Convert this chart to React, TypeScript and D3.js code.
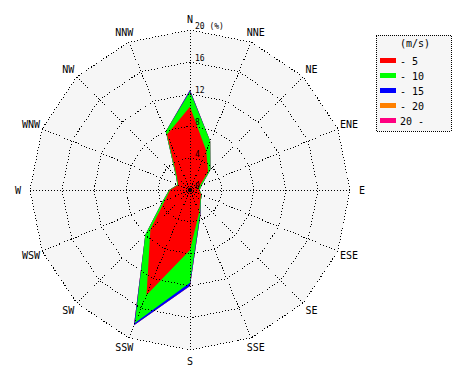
import React from "react";
import * as d3 from "d3";

const directions = ["N","NNE","NE","ENE","E","ESE","SE","SSE","S","SSW","SW","WSW","W","WNW","NW","NNW"];
// frequency (%) per speed class
const speed0to5 =   [10.4, 5.3, 3.2, 1.3, 1.1, 1.5, 1.8, 3.0, 7.5, 14.2, 7.0, 3.4, 2.5, 1.6, 2.3, 7.5];
const speed5to10 =  [1.9, 1.3, 0.4, 0.3, 0.1, 0.1, 0.1, 0.3, 4.1, 3.8, 0.9, 0.3, 0.1, 0.1, 0.2, 0.4];
const speed10to15 = [0.2, 0.0, 0.0, 0.0, 0.0, 0.0, 0.0, 0.1, 0.4, 0.3, 0.0, 0.0, 0.0, 0.0, 0.0, 0.0];
const speed15to20 = [0, 0, 0, 0, 0, 0, 0, 0, 0, 0, 0, 0, 0, 0, 0, 0];
const speedOver20 = [0, 0, 0, 0, 0, 0, 0, 0, 0, 0, 0, 0, 0, 0, 0, 0];
const classLabels = ["- 5", "- 10", "- 15", "- 20", "20 -"];
const classColors = ["#ff0000", "#00ff00", "#0000ff", "#ff8000", "#ff0080"];
const ringTicks = [0, 4, 8, 12, 16, 20];

export default function App() {
  const cx = 190, cy = 190;
  const r = d3.scaleLinear().domain([0, 20]).range([0, 160]);
  const angle = d3.scaleLinear().domain([0, directions.length]).range([0, 2 * Math.PI]);
  const pt = (i: number, v: number): [number, number] => {
    const a = angle(i);
    return [cx + r(v) * Math.sin(a), cy - r(v) * Math.cos(a)];
  };
  const classes = [speed0to5, speed5to10, speed10to15, speed15to20, speedOver20];
  const cumulative = classes.map((_, k) =>
    directions.map((_, i) => d3.sum(classes.slice(0, k + 1), (c) => c[i]))
  );
  const line = d3.line<[number, number]>().curve(d3.curveLinearClosed);
  const ringPath = (v: number) => line(directions.map((_, i) => pt(i, v))) || "";
  const dataPath = (vals: number[]) => line(vals.map((v, i) => pt(i, v))) || "";
  const font = "'DejaVu Sans Mono', monospace";
  const dot = { stroke: "#000", strokeWidth: 1, strokeDasharray: "1,2", fill: "none", shapeRendering: "crispEdges" } as const;

  return (
    <svg width={470} height={380} style={{ position: "absolute", left: 0, top: 0, background: "#fff" }}>
      <path d={ringPath(20)} fill="#f6f6f6" />
      {cumulative.map((vals, k) => k).reverse().map((k) => (
        <path key={"d" + k} d={dataPath(cumulative[k])} fill={classColors[k]} />
      ))}
      {ringTicks.filter((t) => t > 0).map((t) => (
        <path key={"r" + t} d={ringPath(t)} {...dot} />
      ))}
      {directions.map((d, i) => {
        const [x, y] = pt(i, 20);
        return <line key={"s" + i} x1={cx} y1={cy} x2={x} y2={y} {...dot} />;
      })}
      <circle cx={cx} cy={cy} r={2.2} fill="#000" />
      {ringTicks.map((t) => (
        <text key={"t" + t} x={cx + 5} y={cy - r(t) - 1} fontSize={8} fontFamily={font} fill="#000">
          {t === 20 ? "20 (%)" : String(t)}
        </text>
      ))}
      {directions.map((d, i) => {
        const [x, y] = (() => {
          const a = angle(i);
          return [cx + 172 * Math.sin(a), cy - 171 * Math.cos(a)];
        })();
        return (
          <text key={"l" + d} x={x} y={y} fontSize={10} fontFamily={font} textAnchor="middle" dominantBaseline="central" fill="#000">
            {d}
          </text>
        );
      })}
      <rect x={376} y={35} width={75} height={96} fill="#f6f6f6" stroke="#000" strokeDasharray="1,1" shapeRendering="crispEdges" />
      <text x={415} y={47} fontSize={10} fontFamily={font} textAnchor="middle" fill="#000">(m/s)</text>
      {classLabels.map((lab, k) => (
        <g key={"lg" + k}>
          <rect x={380} y={58 + k * 15} width={16} height={5} fill={classColors[k]} />
          <text x={400} y={61 + k * 15} fontSize={10} fontFamily={font} dominantBaseline="central" fill="#000">{lab}</text>
        </g>
      ))}
    </svg>
  );
}
